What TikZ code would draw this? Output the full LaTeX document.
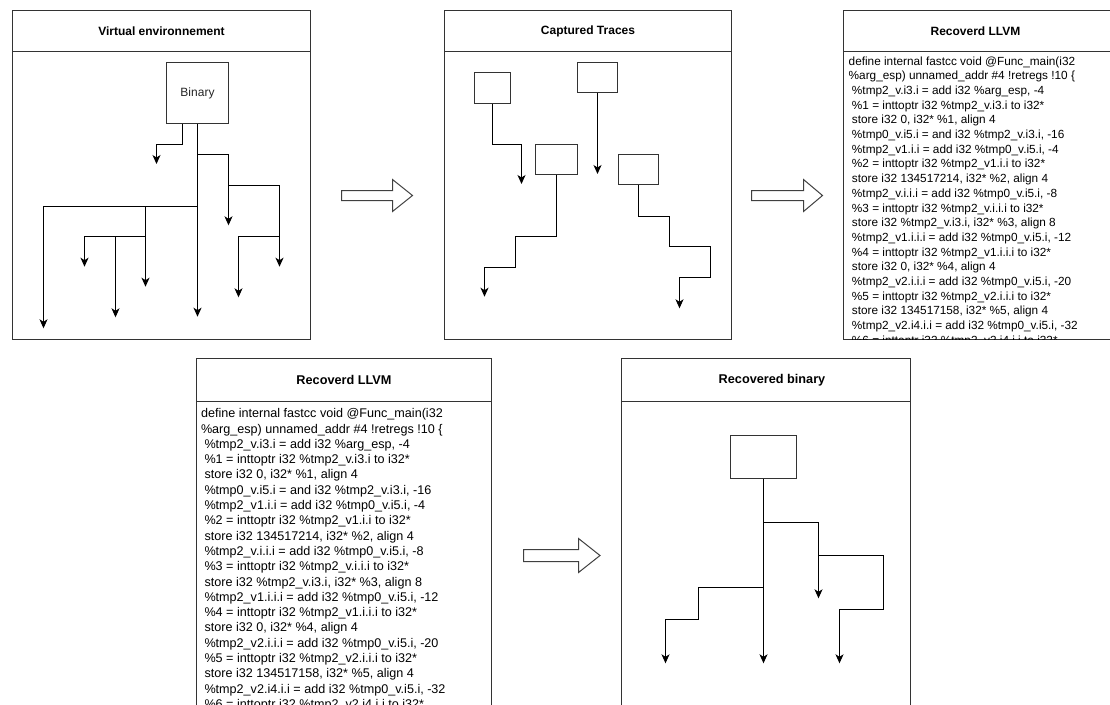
\documentclass[tikz,border=0pt]{standalone}
\usepackage{fontspec}
\setmainfont{Liberation Sans}
\usetikzlibrary{arrows.meta,calc}

% LLVM listing shown in both "Recoverd LLVM" panels
\newcommand\llvmcode{%
\strut define internal fastcc void @Func\_main(i32\\
\%arg\_esp) unnamed\_addr \#4 !retregs !10 \{\\
~\%tmp2\_v.i3.i = add i32 \%arg\_esp, -4\\
~\%1 = inttoptr i32 \%tmp2\_v.i3.i to i32*\\
~store i32 0, i32* \%1, align 4\\
~\%tmp0\_v.i5.i = and i32 \%tmp2\_v.i3.i, -16\\
~\%tmp2\_v1.i.i = add i32 \%tmp0\_v.i5.i, -4\\
~\%2 = inttoptr i32 \%tmp2\_v1.i.i to i32*\\
~store i32 134517214, i32* \%2, align 4\\
~\%tmp2\_v.i.i.i = add i32 \%tmp0\_v.i5.i, -8\\
~\%3 = inttoptr i32 \%tmp2\_v.i.i.i to i32*\\
~store i32 \%tmp2\_v.i3.i, i32* \%3, align 8\\
~\%tmp2\_v1.i.i.i = add i32 \%tmp0\_v.i5.i, -12\\
~\%4 = inttoptr i32 \%tmp2\_v1.i.i.i to i32*\\
~store i32 0, i32* \%4, align 4\\
~\%tmp2\_v2.i.i.i = add i32 \%tmp0\_v.i5.i, -20\\
~\%5 = inttoptr i32 \%tmp2\_v2.i.i.i to i32*\\
~store i32 134517158, i32* \%5, align 4\\
~\%tmp2\_v2.i4.i.i = add i32 \%tmp0\_v.i5.i, -32\\
~\%6 = inttoptr i32 \%tmp2\_v2.i4.i.i to i32*}

\tikzset{
  panel/.style={draw=black!80, line width=1pt, rectangle, inner sep=0pt, outer sep=0pt, anchor=north west},
  headline/.style={draw=black!80, line width=1pt},
  ptitle/.style={font=\fontsize{12}{14}\selectfont\bfseries, inner sep=0pt},
  ptitlebig/.style={font=\fontsize{12.7}{15}\selectfont\bfseries, inner sep=0pt},
  blk/.style={draw=black!80, fill=white, line width=1pt, rectangle, inner sep=0pt, outer sep=0pt},
  flow/.style={draw=black, line width=1pt, -{Stealth[length=9pt,width=8pt,inset=2.5pt]}},
  fatarrow/.style={draw=black!75, fill=white, line width=1pt, line join=miter},
  code/.style={align=left, inner sep=0pt, outer sep=0pt, anchor=north west},
}

\begin{document}
\begin{tikzpicture}[x=1pt,y=-1pt]
\useasboundingbox (0,0) rectangle (1110,704);
\clip (0,0) rectangle (1110,704);
\fill[white] (0,0) rectangle (1110,704);

% ---------- Virtual environnement ----------
\node[panel, minimum width=298pt, minimum height=329pt] (p1) at (12.5,10.5) {};
\draw[headline] ($(p1.north west)+(0,41)$) -- ($(p1.north east)+(0,41)$);
\node[ptitle] (t1) at ($(p1.north)+(0,20.5)$) {Virtual environnement};
\node[blk, minimum width=62pt, minimum height=61pt, font=\fontsize{12}{14}\selectfont, text=black!85] (bin) at (197.5,93) {Binary};

\coordinate (b1) at ($(bin.south west)+(16,0)$);
\coordinate (e1) at (156.5,164);
\coordinate (e2) at (197.5,316.7);
\coordinate (j1) at (197.5,154.5);  \coordinate (e3) at (228.5,225.3);
\coordinate (j2) at (228.5,185.5);  \coordinate (e4) at (279.5,266.7);
\coordinate (j3) at (279.5,236.5);  \coordinate (e5) at (238.5,297.3);
\coordinate (j4) at (197.5,206.5);  \coordinate (e6) at (43.5,328.3);
\coordinate (j5) at (145.5,206.5);  \coordinate (e7) at (145.5,286.7);
\coordinate (j6) at (145.5,236.5);  \coordinate (e8) at (84.5,266.7);
\coordinate (j7) at (115.5,236.5);  \coordinate (e9) at (115.5,317.3);

\draw[flow] (b1) -- ++(0,21) -| (e1);
\draw[flow] (bin.south) -- (e2);
\draw[flow] (j1) -| (e3);
\draw[flow] (j2) -| (e4);
\draw[flow] (j3) -| (e5);
\draw[flow] (j4) -| (e6);
\draw[flow] (j5) -- (e7);
\draw[flow] (j6) -| (e8);
\draw[flow] (j7) -- (e9);

% ---------- Captured Traces ----------
\node[panel, minimum width=287pt, minimum height=329pt] (p2) at (444.5,10.5) {};
\draw[headline] ($(p2.north west)+(0,41)$) -- ($(p2.north east)+(0,41)$);
\node[ptitle] (t2) at ($(p2.north)+(0,20.5)$) {Captured Traces};

\node[blk, minimum width=36pt, minimum height=31pt] (c1) at (492.5,88) {};
\node[blk, minimum width=40pt, minimum height=30pt] (c2) at (597.5,77.5) {};
\node[blk, minimum width=42pt, minimum height=30pt] (c3) at (556.5,159.5) {};
\node[blk, minimum width=40pt, minimum height=30pt] (c4) at (638.5,169.5) {};

\coordinate (f1) at (521.5,184);
\coordinate (f2) at (597.5,174);
\coordinate (f3) at (484.5,296.7);
\coordinate (f4) at (679.5,308.3);

\draw[flow] (c1.south) -- ++(0,41) -| (f1);
\draw[flow] (c2.south) -- (f2);
\draw[flow] (c3.south) -- ++(0,62) -- ++(-41,0) -- ++(0,31) -| (f3);
\draw[flow] (c4.south) -- ++(0,32) -- ++(31,0) -- ++(0,30) -- ++(41,0) -- ++(0,31) -| (f4);

% ---------- Recoverd LLVM (top) ----------
\node[panel, minimum width=270pt, minimum height=329pt] (p3) at (843.5,10.5) {};
\draw[headline] ($(p3.north west)+(0,41)$) -- ($(p3.north east)+(0,41)$);
\node[ptitle] (t3) at (975.5,31) {Recoverd LLVM};
\begin{scope}
  \clip (843.5,51.5) rectangle (1110,339.5);
  \node[code, font=\fontsize{11.8}{14.7}\selectfont] (l3) at (848.7,54.8) {\llvmcode};
\end{scope}

% ---------- Recoverd LLVM (bottom) ----------
\node[panel, minimum width=295pt, minimum height=400pt] (p4) at (196.5,358.5) {};
\draw[headline] ($(p4.north west)+(0,43)$) -- ($(p4.north east)+(0,43)$);
\node[ptitlebig] (t4) at ($(p4.north)+(0,21.5)$) {Recoverd LLVM};
\node[code, font=\fontsize{12.6}{15.3}\selectfont] (l4) at (201,407) {\llvmcode};

% ---------- Recovered binary ----------
\node[panel, minimum width=289pt, minimum height=400pt] (p5) at (621.5,358.5) {};
\draw[headline] ($(p5.north west)+(0,43)$) -- ($(p5.north east)+(0,43)$);
\node[ptitlebig] (t5) at (772,380) {Recovered binary};

\node[blk, minimum width=66pt, minimum height=43pt] (r) at (763.5,457) {};
\coordinate (g1) at (763.5,663.3);
\coordinate (k1) at (763.5,522.5);  \coordinate (g2) at (818.5,598.3);
\coordinate (k2) at (818.5,555.5);  \coordinate (g3) at (839.5,663.3);
\coordinate (k3) at (763.5,587.5);  \coordinate (g4) at (665.5,663.3);

\draw[flow] (r.south) -- (g1);
\draw[flow] (k1) -| (g2);
\draw[flow] (k2) -- ++(65,0) -- ++(0,54) -| (g3);
\draw[flow] (k3) -- ++(-65,0) -- ++(0,32) -| (g4);

% ---------- hollow block arrows between stages ----------
\draw[fatarrow] (341.5,190.5) -- (392.5,190.5) -- (392.5,179.5) -- (412.5,195.5)
  -- (392.5,211.5) -- (392.5,200.5) -- (341.5,200.5) -- cycle;
\draw[fatarrow] (751.5,190.5) -- (803.5,190.5) -- (803.5,179.5) -- (822.5,195.5)
  -- (803.5,211.5) -- (803.5,200.5) -- (751.5,200.5) -- cycle;
\draw[fatarrow] (523.5,549.5) -- (578.5,549.5) -- (578.5,538.5) -- (600,555.5)
  -- (578.5,572.5) -- (578.5,561.5) -- (523.5,561.5) -- cycle;
\end{tikzpicture}
\end{document}
